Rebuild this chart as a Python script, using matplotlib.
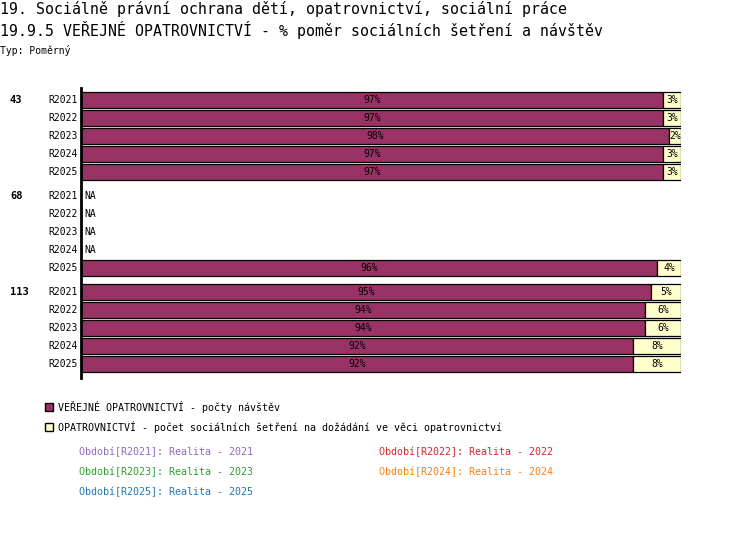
import matplotlib.pyplot as plt
from matplotlib.patches import Rectangle
from matplotlib.transforms import blended_transform_factory

# ==== Dados ====
groups = ["43", "68", "113"]
periods = ["R2021", "R2022", "R2023", "R2024", "R2025"]
visits = [
    [97, 97, 98, 97, 97],
    [None, None, None, None, 96],
    [95, 94, 94, 92, 92],
]
inquiries = [
    [3, 3, 2, 3, 3],
    [None, None, None, None, 4],
    [5, 6, 6, 8, 8],
]
series_names = [
    "VEŘEJNÉ OPATROVNICTVÍ - počty návštěv",
    "OPATROVNICTVÍ - počet sociálních šetření na dožádání ve věci opatrovnictví",
]
period_notes = [
    "Období[R2021]: Realita - 2021",
    "Období[R2022]: Realita - 2022",
    "Období[R2023]: Realita - 2023",
    "Období[R2024]: Realita - 2024",
    "Období[R2025]: Realita - 2025",
]
note_colors = ["#9467bd", "#d62728", "#2ca02c", "#ff7f0e", "#1f77b4"]

title1 = "19. Sociálně právní ochrana dětí, opatrovnictví, sociální práce"
title2 = "19.9.5 VEŘEJNÉ OPATROVNICTVÍ - % poměr sociálních šetření a návštěv"
subtitle = "Typ: Poměrný"

C_VISIT = "#993366"
C_INQ = "#ffffcc"
FONT = "DejaVu Sans Mono"
W, H = 750, 550


def px(x, y):
    return x / W, 1 - y / H


fig = plt.figure(figsize=(W / 100, H / 100), dpi=100)
fig.patch.set_facecolor("white")

fig.text(*px(0, 9), title1, fontsize=10.75, family=FONT, va="center", ha="left")
fig.text(*px(0, 30), title2, fontsize=10.75, family=FONT, va="center", ha="left")
fig.text(*px(0, 50), subtitle, fontsize=7, family=FONT, va="center", ha="left")

# ==== Eixo ====
x0, x1, ytop, ybot = 81, 681, 88, 378
ax = fig.add_axes([x0 / W, 1 - ybot / H, (x1 - x0) / W, (ybot - ytop) / H])
ax.set_xlim(0, 100)
ax.set_ylim(ybot, ytop)
for s in ["top", "right", "bottom"]:
    ax.spines[s].set_visible(False)
ax.spines["left"].set_linewidth(2)
ax.set_xticks([])
ax.set_yticks([])
ax.patch.set_alpha(0)

left_tr = blended_transform_factory(fig.transFigure, ax.transData)

for g, grp in enumerate(groups):
    for i, per in enumerate(periods):
        y = 100 + g * 96 + i * 18
        if i == 0:
            ax.text(10 / W, y, grp, transform=left_tr, fontsize=7.5, family=FONT,
                    weight="bold", va="center", ha="left")
        ax.text(78 / W, y, per, transform=left_tr, fontsize=7, family=FONT,
                va="center", ha="right")
        v = visits[g][i]
        q = inquiries[g][i]
        if v is None:
            ax.text(0.5, y, "NA", fontsize=7, family=FONT, va="center", ha="left")
            continue
        ax.barh(y, v, height=16, left=0, color=C_VISIT, edgecolor="black", linewidth=0.9)
        ax.barh(y, q, height=16, left=v, color=C_INQ, edgecolor="black", linewidth=0.9)
        ax.text(v / 2, y, f"{v}%", fontsize=7, family=FONT, va="center", ha="center")
        ax.text(v + q / 2, y, f"{q}%", fontsize=7, family=FONT, va="center", ha="center")

# ==== Legenda ====
for k, (name, col) in enumerate(zip(series_names, [C_VISIT, C_INQ])):
    yy = 407 + k * 20
    bx, by = px(45, yy + 4)
    fig.patches.append(Rectangle((bx, by), 8 / W, 8 / H, transform=fig.transFigure,
                                 facecolor=col, edgecolor="black", linewidth=1))
    fig.text(*px(58, yy), name, fontsize=7.2, family=FONT, va="center", ha="left")

for k, (note, col) in enumerate(zip(period_notes, note_colors)):
    xx = 79 if k % 2 == 0 else 379
    yy = 452 + (k // 2) * 20
    fig.text(*px(xx, yy), note, fontsize=7.2, family=FONT, color=col,
             va="center", ha="left")

fig.savefig("out.png", dpi=100)
